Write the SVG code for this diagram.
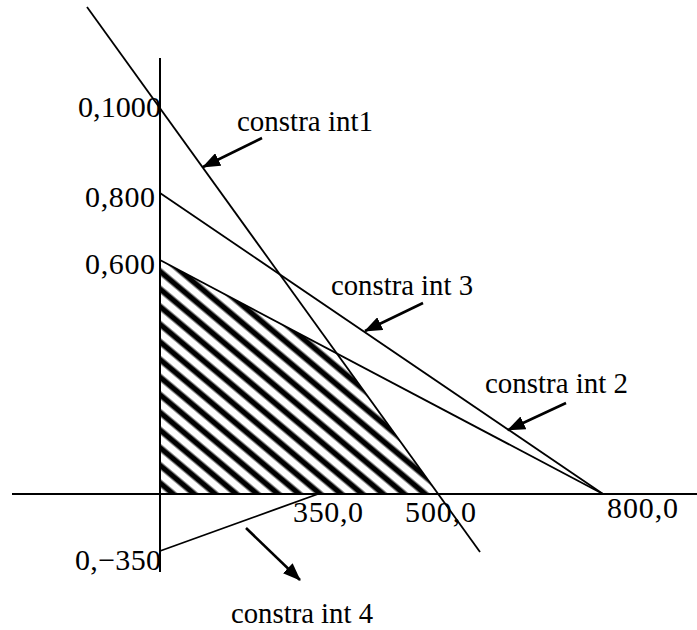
<svg xmlns="http://www.w3.org/2000/svg" width="697" height="630" viewBox="0 0 697 630">
<style>
.ln{stroke:#000;stroke-width:1.8;fill:none}
.ax{stroke:#000;stroke-width:2;fill:none}
.ar{stroke:#000;stroke-width:2.6;fill:none}
text{font-family:"Liberation Serif","Times New Roman",serif;font-size:30px;fill:#000}
</style>
<defs>
<linearGradient id="hatch" gradientUnits="userSpaceOnUse" x1="164.34" y1="424.83" x2="155.66" y2="435.17" spreadMethod="repeat">
<stop offset="0" stop-color="#fff"/>
<stop offset="0.2" stop-color="#fff"/>
<stop offset="0.37" stop-color="#000"/>
<stop offset="0.63" stop-color="#000"/>
<stop offset="0.8" stop-color="#fff"/>
<stop offset="1" stop-color="#fff"/>
</linearGradient>
<marker id="ah" viewBox="0 0 18 14" refX="17" refY="7" markerWidth="18" markerHeight="14" markerUnits="userSpaceOnUse" orient="auto">
<path d="M0,0 L18,7 L0,14 Z" fill="#000"/>
</marker>
</defs>
<rect width="697" height="630" fill="#fff"/>
<g id="feasible-region">
<polygon points="160,260 336,353 438,494 160,494" fill="url(#hatch)"/>
</g>
<g id="connectors">
<line id="axis-x" class="ax" x1="12" y1="494" x2="697" y2="494"/>
<line id="axis-y" class="ax" x1="160" y1="58" x2="160" y2="572"/>
<line id="constraint1" class="ln" x1="87" y1="7" x2="480" y2="552"/>
<line id="constraint3" class="ln" x1="160" y1="193" x2="603" y2="494"/>
<line id="constraint2" class="ln" x1="160" y1="260" x2="603" y2="494"/>
<line id="constraint4" class="ln" x1="160" y1="551" x2="318" y2="494"/>
<line class="ar" x1="262" y1="138" x2="203" y2="167" marker-end="url(#ah)"/>
<line class="ar" x1="423" y1="303" x2="365" y2="331" marker-end="url(#ah)"/>
<line class="ar" x1="566" y1="403" x2="508" y2="430" marker-end="url(#ah)"/>
<line class="ar" x1="246" y1="528" x2="300" y2="580" marker-end="url(#ah)"/>
</g>
<g id="axis-labels">
<text x="78" y="117" textLength="83" lengthAdjust="spacingAndGlyphs">0,1000</text>
<text x="85" y="207" textLength="70" lengthAdjust="spacing">0,800</text>
<text x="85" y="274" textLength="70" lengthAdjust="spacing">0,600</text>
<text x="75" y="570" textLength="86" lengthAdjust="spacing">0,−350</text>
<text x="293" y="522" textLength="70" lengthAdjust="spacing">350,0</text>
<text x="405" y="522" textLength="71" lengthAdjust="spacing">500,0</text>
<text x="607" y="518" textLength="71" lengthAdjust="spacing">800,0</text>
</g>
<g id="label-constraint1"><text x="237" y="131" textLength="136" lengthAdjust="spacingAndGlyphs">constra int1</text></g>
<g id="label-constraint3"><text x="331" y="295" textLength="142" lengthAdjust="spacingAndGlyphs">constra int 3</text></g>
<g id="label-constraint2"><text x="485" y="393" textLength="143" lengthAdjust="spacingAndGlyphs">constra int 2</text></g>
<g id="label-constraint4"><text x="231" y="623" textLength="142" lengthAdjust="spacingAndGlyphs">constra int 4</text></g>
</svg>
